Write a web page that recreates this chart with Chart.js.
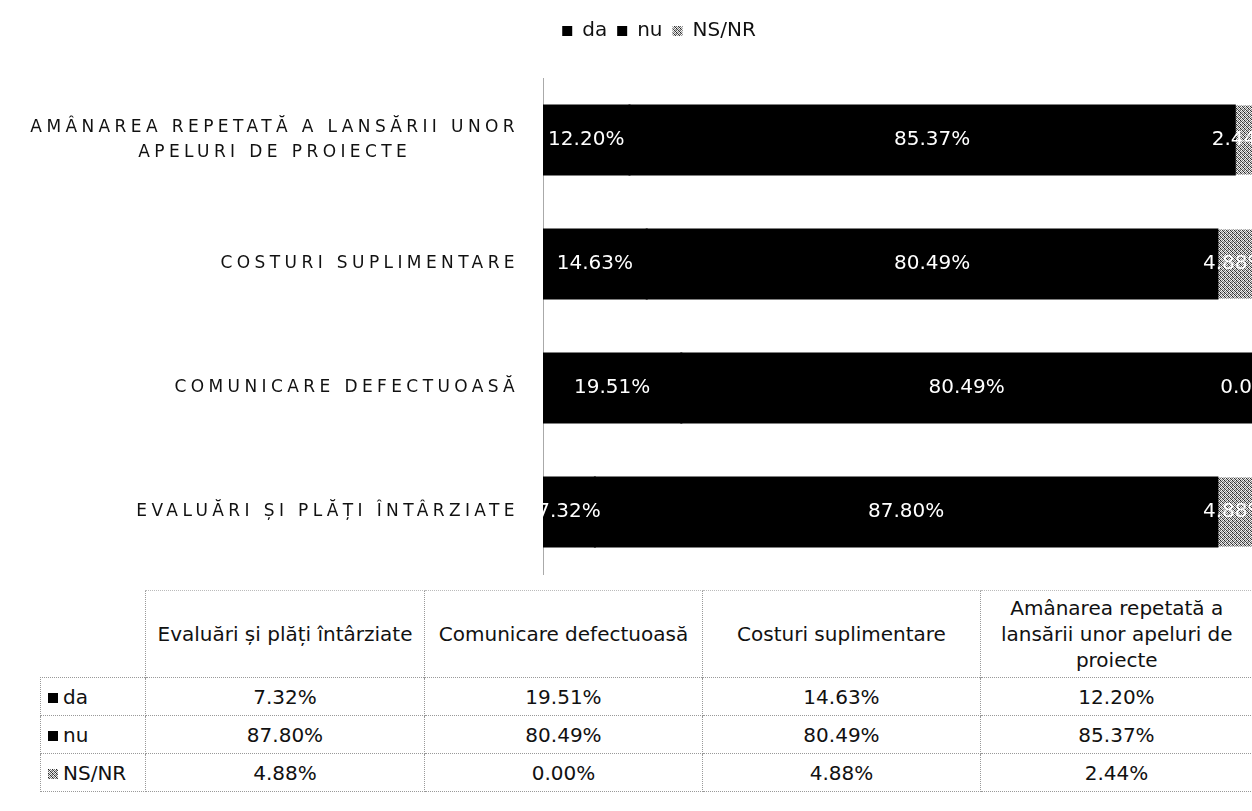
<!DOCTYPE html>
<html>
<head>
<meta charset="utf-8">
<script src="https://cdn.jsdelivr.net/npm/chart.js@4.4.0/dist/chart.umd.min.js"></script>
<style>
    html, body { margin: 0; padding: 0; background: #fff; }
    body { width: 1252px; height: 811px; position: relative; overflow: hidden; font-family: "DejaVu Sans", sans-serif; }
    #barChart { position: absolute; left: 0; top: 0; }
    #tbl { position: absolute; left: 40px; top: 590px; border-collapse: collapse; table-layout: fixed; width: 1212px; font-size: 20px; line-height: 26px; color: #111; }
    #tbl th { font-weight: normal; height: 86px; padding: 0 4px; border-left: 1px dotted #999; border-top: 1px dotted #bbb; text-align: center; vertical-align: middle; }
    #tbl td { height: 37px; padding: 0; text-align: center; vertical-align: middle; border: 1px dotted #999; }
    #tbl td.blank { border: none; }
    #tbl td.key { text-align: left; padding-left: 7px; }
    .sw { display: inline-block; width: 10px; height: 10px; background: #000; margin-right: 5px; vertical-align: 1px; }
</style>
</head>
<body>
<canvas id="barChart" width="1252" height="580"></canvas>
<table id="tbl">
    <colgroup><col style="width:105px"><col style="width:279px"><col style="width:278px"><col style="width:278px"><col style="width:272px"></colgroup>
    <tbody id="tblBody"></tbody>
</table>
<script>
const categories = [
    'Evaluări și plăți întârziate',
    'Comunicare defectuoasă',
    'Costuri suplimentare',
    'Amânarea repetată a lansării unor apeluri de proiecte'
];
const seriesNames = ['da', 'nu', 'NS/NR'];
const daValues = [7.32, 19.51, 14.63, 12.20];
const nuValues = [87.80, 80.49, 80.49, 85.37];
const nsnrValues = [4.88, 0.00, 4.88, 2.44];

// grey halftone look of the NS/NR segment
const makeDither = () => {
    const c = document.createElement('canvas');
    c.width = 4;
    c.height = 4;
    const g = c.getContext('2d');
    const shades = ['#222', '#ddd', '#777', '#fff',
                    '#bbb', '#444', '#eee', '#888',
                    '#666', '#fff', '#333', '#ccc',
                    '#eee', '#999', '#ddd', '#333'];
    shades.forEach((s, i) => {
        g.fillStyle = s;
        g.fillRect(i % 4, Math.floor(i / 4), 1, 1);
    });
    return c;
};
const ditherCanvas = makeDither();
const canvas = document.getElementById('barChart');
const dither = canvas.getContext('2d').createPattern(ditherCanvas, 'repeat');

const tickFont = '17px "DejaVu Sans"';
const tickSpacing = '4.4px';
const measureCtx = document.createElement('canvas').getContext('2d');
measureCtx.font = tickFont;
measureCtx.letterSpacing = tickSpacing;

const wrapLabel = (text, maxChars) => {
    const words = text.split(' ');
    const lines = [];
    let line = '';
    words.forEach(w => {
        if (line && (line + ' ' + w).length > maxChars) {
            lines.push(line);
            line = w;
        } else {
            line = line ? line + ' ' + w : w;
        }
    });
    lines.push(line);
    if (lines.length === 1) return lines[0];
    // centre the shorter lines under the first one
    const full = measureCtx.measureText(lines[0]).width;
    return lines.map((l, i) => {
        if (i === 0) return l;
        const w = measureCtx.measureText(l).width;
        let padded = l;
        while (measureCtx.measureText(padded + '\u00a0').width - w <= (full - w) / 2) {
            padded += '\u00a0';
        }
        return padded;
    });
};

const barLabels = {
    id: 'barLabels',
    beforeDraw(chart) {
        const y = chart.scales.y;
        if (!y._spaced) {
            const orig = y.drawLabels;
            y.drawLabels = function(area) {
                this.ctx.save();
                this.ctx.letterSpacing = tickSpacing;
                orig.call(this, area);
                this.ctx.restore();
            };
            y._spaced = true;
        }
    },
    beforeLayout(chart) {
        const legend = chart.legend;
        if (legend && !legend._fixed) {
            const fit = legend.fit;
            legend.fit = function() {
                fit.call(this);
                this.height = 67;
            };
            legend._fixed = true;
        }
    },
    afterLayout(chart) {
        // legend sits centred over the right part of the page
        const legend = chart.legend;
        legend.left = 66;
        legend.width = legend.right - 66;
    },
    afterDatasetsDraw(chart) {
        const ctx = chart.ctx;
        ctx.save();
        ctx.font = '20px "DejaVu Sans"';
        ctx.fillStyle = '#fff';
        ctx.textAlign = 'center';
        ctx.textBaseline = 'middle';
        chart.data.datasets.forEach((ds, i) => {
            chart.getDatasetMeta(i).data.forEach((bar, j) => {
                const p = bar.getCenterPoint();
                ctx.fillText(ds.data[j].toFixed(2) + '%', p.x, p.y);
            });
        });
        ctx.restore();
    }
};

new Chart(canvas, {
    type: 'bar',
    data: {
        labels: categories,
        datasets: [
            { label: seriesNames[0], data: daValues, backgroundColor: '#000', inflateAmount: 1 },
            { label: seriesNames[1], data: nuValues, backgroundColor: '#000', inflateAmount: 1 },
            { label: seriesNames[2], data: nsnrValues, backgroundColor: dither }
        ]
    },
    options: {
        indexAxis: 'y',
        responsive: false,
        animation: false,
        layout: {
            padding: { top: 11, left: 0, right: 0, bottom: 6 }
        },
        datasets: {
            bar: {
                barPercentage: 0.556,
                categoryPercentage: 1.0
            }
        },
        plugins: {
            legend: {
                position: 'top',
                labels: {
                    boxWidth: 10,
                    boxHeight: 10,
                    padding: 10,
                    color: '#111',
                    font: { family: 'DejaVu Sans', size: 20 }
                }
            },
            tooltip: { enabled: false }
        },
        scales: {
            x: {
                stacked: true,
                min: 0,
                max: 100,
                display: false
            },
            y: {
                stacked: true,
                reverse: true,
                grid: { display: false },
                border: { display: true, color: '#aaa', dash: [1, 3] },
                afterFit: (scale) => {
                    scale.width = 543;
                    scale.paddingTop = 0;
                    scale.paddingBottom = 0;
                },
                ticks: {
                    autoSkip: false,
                    padding: 16,
                    color: '#111',
                    font: { family: 'DejaVu Sans', size: 17, lineHeight: 1.47 },
                    callback: function(value) {
                        return wrapLabel(this.getLabelForValue(value).toUpperCase(), 34);
                    }
                }
            }
        }
    },
    plugins: [barLabels]
});

const seriesValues = [daValues, nuValues, nsnrValues];
const swatchBg = ['#000', '#000', `url(${ditherCanvas.toDataURL()})`];
let html = '<tr><td class="blank"></td>' + categories.map(c => `<th>${c}</th>`).join('') + '</tr>';
seriesNames.forEach((name, k) => {
    html += `<tr><td class="key"><span class="sw" style="background:${swatchBg[k]}"></span>${name}</td>` +
        seriesValues[k].map(v => `<td>${v.toFixed(2)}%</td>`).join('') + '</tr>';
});
document.getElementById('tblBody').innerHTML = html;
</script>
</body>
</html>
